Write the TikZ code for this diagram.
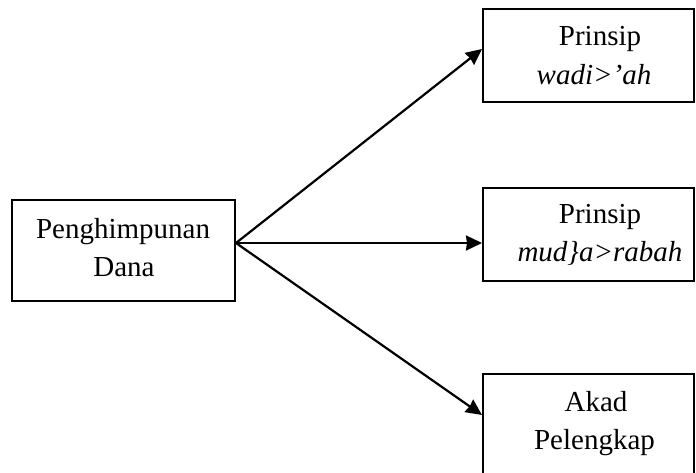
\documentclass[tikz,border=0pt]{standalone}
\usepackage{fontspec}
\setmainfont{Liberation Serif}
\usetikzlibrary{arrows.meta,calc}
\begin{document}
\begin{tikzpicture}[x=1pt,y=1pt,
  boxnode/.style={draw=black,line width=2pt,rectangle,inner sep=0pt},
  lbl/.style={anchor=base,inner sep=0pt,font=\fontsize{29}{36}\selectfont},
  arr/.style={line width=2.2pt,-{Stealth[length=16pt,width=15pt,inset=1pt]}}]
\useasboundingbox (0,0) rectangle (696,473);
\clip (0,0) rectangle (696,473);
% boxes
\node[boxnode,minimum width=223pt,minimum height=101pt] (lb) at (123.5,222.5) {};
\node[boxnode,minimum width=211pt,minimum height=93pt] (tb) at (588.5,417.5) {};
\node[boxnode,minimum width=211pt,minimum height=93pt] (mb) at (588.5,238.5) {};
\node[boxnode,minimum width=211pt,minimum height=110pt] (bb) at (588.5,44) {};
% texts
\node[lbl] (l1) at (123,234) {Penghimpunan};
\node[lbl] (l2) at (124,196) {Dana};
\node[lbl] (t1) at (600,427) {Prinsip};
\node[lbl] (t2) at (594,388) {\itshape wadi>’ah};
\node[lbl] (m1) at (600,249) {Prinsip};
\node[lbl] (m2) at (600,211) {\itshape mud\}a>rabah};
\node[lbl] (b1) at (596,61) {Akad};
\node[lbl] (b2) at (594.5,23) {Pelengkap};
% connector points
\coordinate (o) at (lb.east |- 0,230);
\coordinate (tt) at (tb.west |- 0,424);
\coordinate (mt) at (mb.west |- 0,230);
\coordinate (bt) at (bb.west |- 0,58);
\draw[arr] (o) -- (tt);
\draw[arr] (o) -- (mt);
\draw[arr] (o) -- (bt);
\end{tikzpicture}
\end{document}
